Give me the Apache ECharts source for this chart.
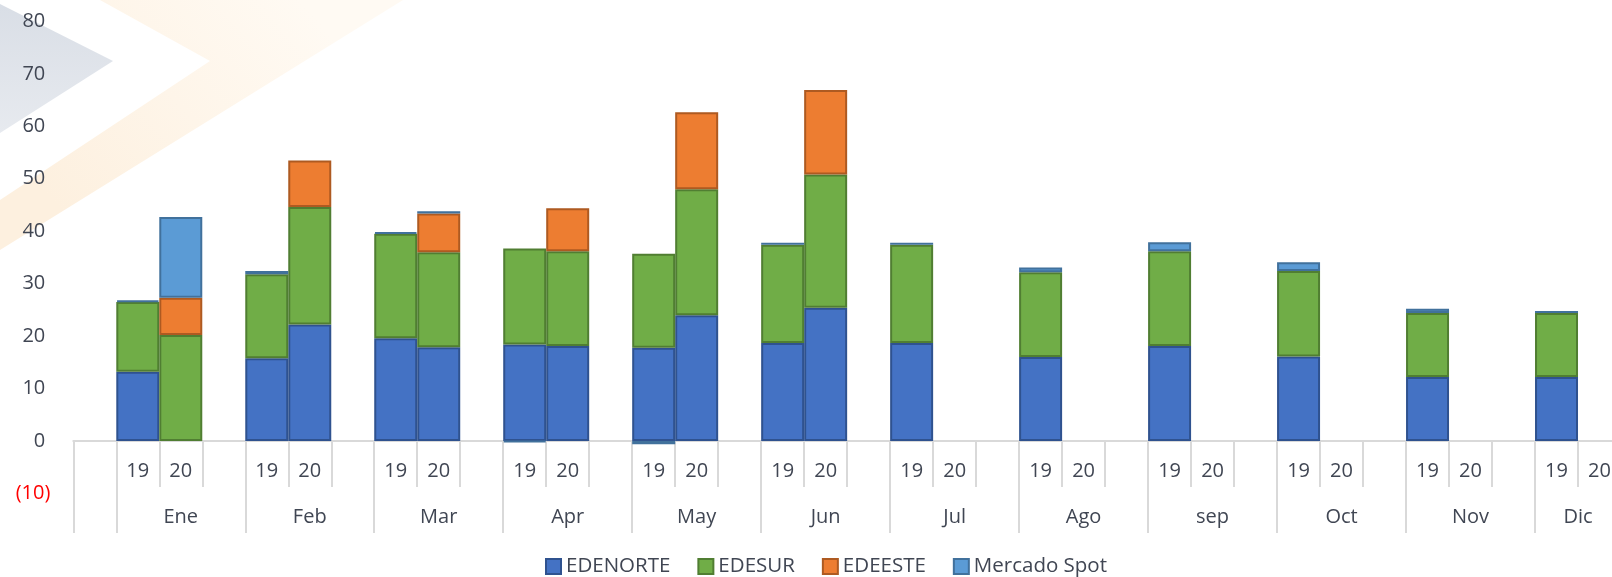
<!DOCTYPE html>
<html>
<head>
<meta charset="utf-8">
<script src="https://cdn.jsdelivr.net/npm/echarts@6/dist/echarts.min.js"></script>
<style>
html,body{margin:0;padding:0;background:#fff;}
#c{width:1612px;height:577px;}
</style>
</head>
<body>
<div id="c"></div>
<script>
// ---- data ----
const months = ['Ene','Feb','Mar','Apr','May','Jun','Jul','Ago','sep','Oct','Nov','Dic'];
const years = ['19','20'];
const yTicks = [-10,0,10,20,30,40,50,60,70,80];

const edenorte19 = [13.2, 15.8, 19.6, 18.4, 17.8, 18.7, 18.7, 16.0, 18.1, 16.1, 12.2, 12.2];
const edenorte20 = [0, 22.2, 17.9, 18.1, 24.0, 25.4, null, null, null, null, null, null];
const edesur19   = [13.3, 16.0, 19.9, 18.3, 17.9, 18.7, 18.7, 16.2, 18.1, 16.3, 12.2, 12.2];
const edesur20   = [20.2, 22.4, 18.1, 18.1, 24.0, 25.4, null, null, null, null, null, null];
const edeeste19  = [null, null, null, null, null, null, null, null, null, null, null, null];
const edeeste20  = [7.1, 8.9, 7.4, 8.2, 14.7, 16.1, null, null, null, null, null, null];
const spot19     = [0.3, 0.6, 0.3, -0.2, -0.6, 0.4, 0.4, 0.9, 1.7, 1.7, 0.8, 0.4];
const spot20     = [15.4, null, 0.4, null, null, null, null, null, null, null, null, null];

// ---- slot layout: leading blank, then per month [19, 20, blank] (last month without trailing blank)
function slots(a19, a20) {
  const out = [null];
  months.forEach((m, i) => {
    out.push(a19[i] === 0 ? null : a19[i]);
    out.push(a20[i] === 0 ? null : a20[i]);
    if (i < months.length - 1) out.push(null);
  });
  return out;
}
const yearCats = [''];
months.forEach((m, i) => {
  yearCats.push(years[0], years[1]);
  if (i < months.length - 1) yearCats.push('');
});
const monthLabelCats = yearCats.map(() => '');
months.forEach((m, i) => {
  if (i < months.length - 1) monthLabelCats[2 + 3 * i] = m;
  else monthLabelCats[1 + 3 * i] = m + '*';
});
const groupStarts = [0];
months.forEach((m, i) => groupStarts.push(1 + 3 * i));

const textColor = '#404653';
const font = '"Open Sans", "Liberation Sans", sans-serif';

const gridTop = 21.4, gridBottom = 83.5, H = 577;
const plotH = H - gridTop - gridBottom;
const zeroOffset = -plotH * (0 - yTicks[0]) / (yTicks[yTicks.length - 1] - yTicks[0]);

const chart = echarts.init(document.getElementById('c'), null, {renderer: 'canvas'});
const seriesDefs = [
  {name: 'EDENORTE', a: edenorte19, b: edenorte20, color: '#4472C4', border: '#2F528F'},
  {name: 'EDESUR', a: edesur19, b: edesur20, color: '#70AD47', border: '#507E32'},
  {name: 'EDEESTE', a: edeeste19, b: edeeste20, color: '#ED7D31', border: '#AE5A21'},
  {name: 'Mercado Spot', a: spot19, b: spot20, color: '#5B9BD5', border: '#41719C'}
];

chart.setOption({
  animation: false,
  backgroundColor: '#ffffff',
  graphic: [
    {type: 'polygon', z: -10, silent: true,
     shape: {points: [[100,0],[403,0],[0,250],[0,200],[210,61]]},
     style: {fill: new echarts.graphic.LinearGradient(300, 0, 60, 210,
        [{offset: 0, color: '#fffaf3'}, {offset: 1, color: '#fdf0df'}], true)}},
    {type: 'polygon', z: -9, silent: true,
     shape: {points: [[0,4],[113,61],[0,133]]},
     style: {fill: new echarts.graphic.LinearGradient(0, 0, 0, 1,
        [{offset: 0, color: '#d9dee6'}, {offset: 1, color: '#e7eaef'}])}}
  ],
  grid: {left: 73.3, right: -9, top: gridTop, bottom: gridBottom, containLabel: false, outerBoundsMode: 'none'},
  legend: {
    left: 545, top: 556, padding: 0,
    itemWidth: 15, itemHeight: 15, itemGap: 27,
    icon: 'rect',
    textStyle: {color: textColor, fontSize: 20.5, fontFamily: font},
    data: seriesDefs.map(s => s.name)
  },
  xAxis: [
    {
      type: 'category', data: yearCats, position: 'bottom', offset: zeroOffset,
      axisLine: {show: true, onZero: false, lineStyle: {color: '#d9d9d9', width: 2}},
      axisTick: {show: true, interval: 0, length: 46, lineStyle: {color: '#d9d9d9', width: 2}},
      axisLabel: {interval: 0, margin: 20, color: textColor, fontSize: 20, fontFamily: font},
      splitLine: {show: false}
    },
    {
      type: 'category', data: monthLabelCats, position: 'bottom', offset: zeroOffset,
      axisLine: {show: false, onZero: false},
      axisTick: {show: true, length: 92, lineStyle: {color: '#d9d9d9', width: 2},
        interval: function (idx) { return groupStarts.indexOf(idx) >= 0; }},
      axisLabel: {interval: 0, margin: 66, color: textColor, fontSize: 20, fontFamily: font,
        formatter: function (v) {
          if (v.endsWith('*')) return '{s|' + v.slice(0, -1) + '}';
          return v;
        },
        rich: {s: {color: textColor, fontSize: 20, fontFamily: font, padding: [0, 0, 0, 43]}}
      },
      splitLine: {show: false}
    }
  ],
  yAxis: {
    type: 'value', min: yTicks[0], max: yTicks[yTicks.length - 1], interval: 10,
    axisLine: {show: false}, axisTick: {show: false}, splitLine: {show: false},
    axisLabel: {
      margin: 23,
      formatter: function (v) {
        if (v < 0) return '{n|(' + Math.abs(v) + ')}';
        return '{p|' + v + '}';
      },
      rich: {
        n: {color: '#FF0000', fontSize: 20, fontFamily: font},
        p: {color: textColor, fontSize: 20, fontFamily: font, padding: [0, 5, 0, 0]}
      }
    }
  },
  series: seriesDefs.map(s => ({
    name: s.name, type: 'bar', stack: 'total', xAxisIndex: 0,
    barCategoryGap: '0%', barGap: '0%',
    itemStyle: {color: s.color, borderColor: s.border, borderWidth: 2},
    data: slots(s.a, s.b)
  }))
});
</script>
</body>
</html>
